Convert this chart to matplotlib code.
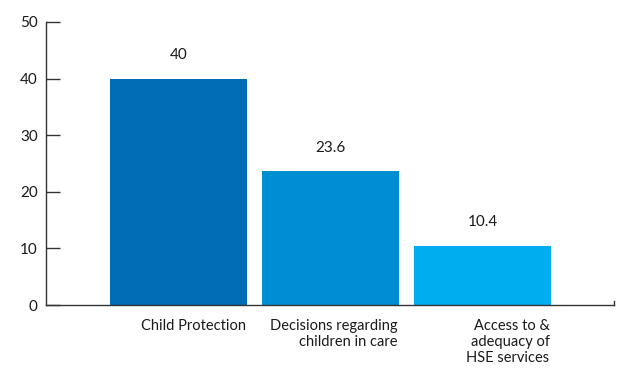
import matplotlib
matplotlib.use("Agg")
import matplotlib.pyplot as plt

categories = ["Child Protection",
              "Decisions regarding\nchildren in care",
              "Access to &\nadequacy of\nHSE services"]
values = [40, 23.6, 10.4]
value_labels = ["40", "23.6", "10.4"]
colors = ["#006DB6", "#008ED3", "#00ADEE"]
yticks = [0, 10, 20, 30, 40, 50]

plt.rcParams["font.family"] = ["Lato", "DejaVu Sans"]

fig = plt.figure(figsize=(6.3, 3.76), dpi=100)
ax = fig.add_axes([0.073, 0.1888, 0.9016, 0.7527])

width = 0.901
x = list(range(len(values)))
ax.bar(x, values, width=width, color=colors, zorder=2)

for xi, v, lab in zip(x, values, value_labels):
    ax.annotate(lab, (xi, v), xytext=(0, 12), textcoords="offset points",
                ha="center", va="bottom", fontsize=11, color="#1a1a1a")

for xi, cat in zip(x, categories):
    ax.annotate(cat, (xi + width / 2, 0), xytext=(-1, -10), textcoords="offset points",
                ha="right", va="top", multialignment="right",
                fontsize=10.5, color="#1a1a1a", linespacing=1.2)

ax.set_xlim(-0.872, 2.865)
ax.set_ylim(0, 50)
ax.set_xticks([])
ax.set_yticks(yticks)
ax.set_yticklabels([str(t) for t in yticks])
ax.tick_params(axis="y", direction="in", length=10, width=1, color="#333333",
               pad=6, labelsize=11, labelcolor="#1a1a1a")

for side in ["top", "right"]:
    ax.spines[side].set_visible(False)
ax.spines["left"].set_color("#333333")
ax.spines["bottom"].set_color("#333333")
ax.spines["left"].set_linewidth(1)
ax.spines["bottom"].set_linewidth(1)

# small end tick on the baseline
ax.plot([1, 1], [0, 0.014], transform=ax.transAxes, color="#333333",
        lw=1, clip_on=False)

fig.savefig("out.png", dpi=100)
